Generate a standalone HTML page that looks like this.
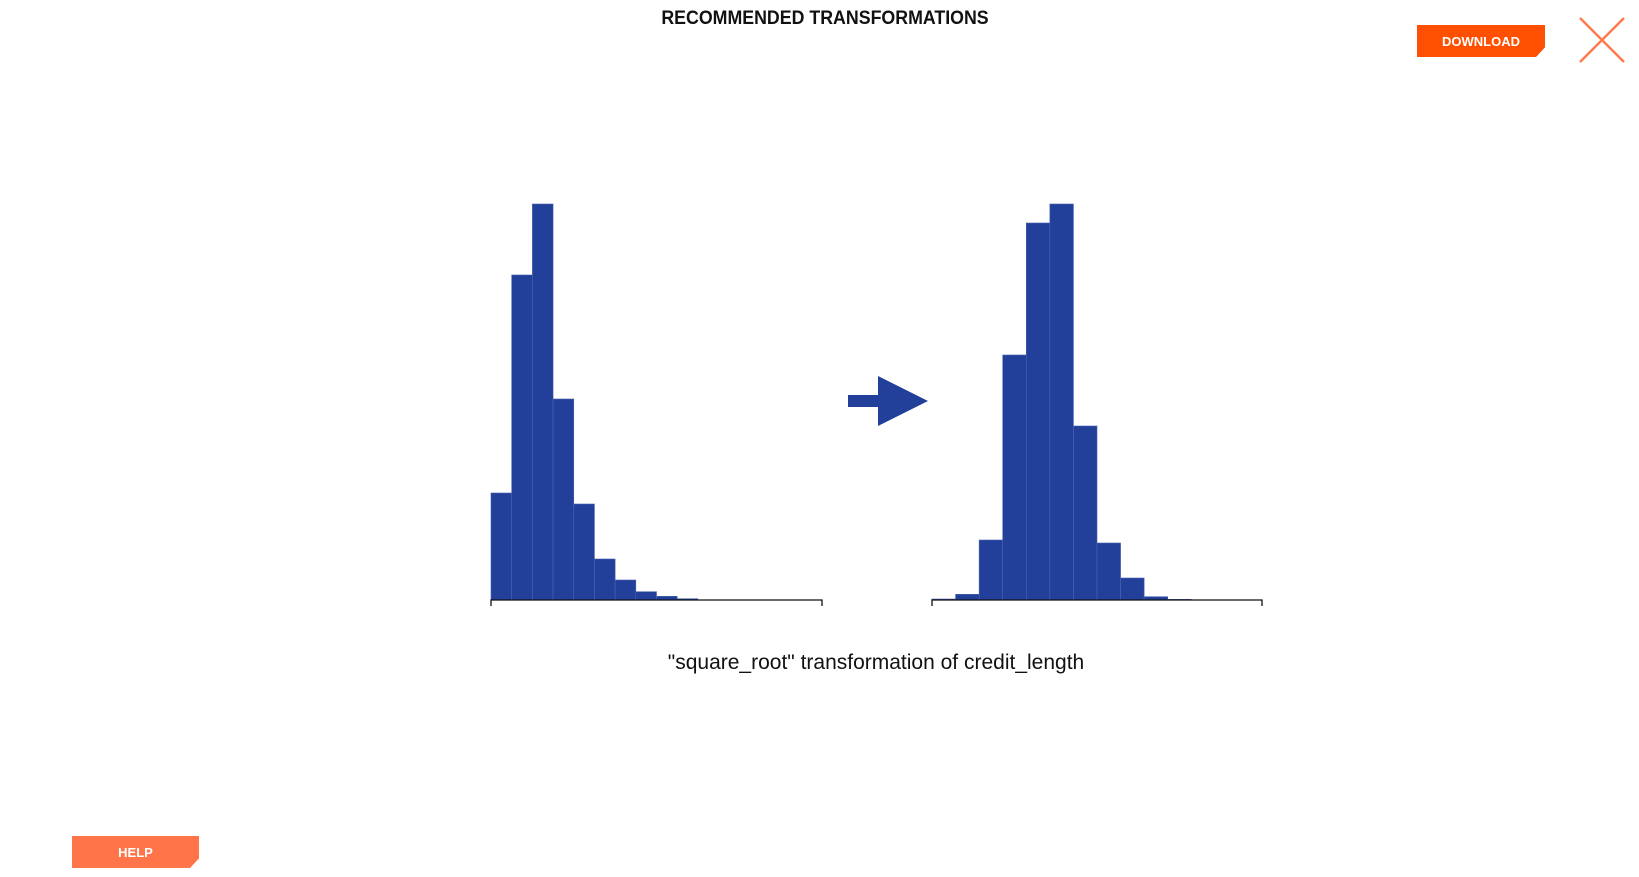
<!DOCTYPE html>
<html><head><meta charset="utf-8"><style>
body{margin:0;width:1639px;height:877px;background:#fff;overflow:hidden;position:relative;font-family:"Liberation Sans",sans-serif}
.title{position:absolute;left:0;width:1650px;top:8px;text-align:center;font-weight:bold;font-size:19px;color:#111;transform:scaleX(0.935);transform-origin:825px 0}
.btn{position:absolute;color:#fff;font-weight:bold;font-size:13px;display:flex;align-items:center;justify-content:center;clip-path:polygon(0 0,100% 0,100% 70%,calc(100% - 9px) 100%,0 100%)}
.caption{position:absolute;left:0;width:1752px;top:651px;text-align:center;font-size:21px;color:#111}
</style></head><body>
<div class="title">RECOMMENDED TRANSFORMATIONS</div>
<div class="btn" style="left:1417px;top:25px;width:128px;height:32px;background:#ff4f00">DOWNLOAD</div>
<svg style="position:absolute;left:1578px;top:16px" width="48" height="48"><line x1="2" y1="2" x2="46" y2="46" stroke="#ff7a50" stroke-width="2.5"/><line x1="46" y1="2" x2="2" y2="46" stroke="#ff7a50" stroke-width="2.5"/></svg>
<div class="btn" style="left:72px;top:836px;width:127px;height:32px;background:#ff7448">HELP</div>
<svg id="chart" style="position:absolute;left:0;top:0" width="1639" height="877"></svg>
<div class="caption">"square_root" transformation of credit_length</div>
<script>
const beforeCounts=[107,325,396,201,96,41,20,8.3,3.7,1.3,0,0,0,0,0,0];
const afterCounts=[1,5.7,60,245,377,396,174,57,22,3.3,0.7,0,0,0];
const ns="http://www.w3.org/2000/svg";
const svg=document.getElementById('chart');
const baseY=600, maxH=396;
function mk(t,a){const e=document.createElementNS(ns,t);for(const k in a)e.setAttribute(k,a[k]);svg.appendChild(e);return e;}
function hist(counts,x0,x1,name){
  const mx=Math.max(...counts);
  const y=v=>baseY-v/mx*maxH;
  const bw=(x1-x0)/counts.length;
  counts.forEach((c,i)=>{
    if(c<=0)return;
    const r=mk('rect',{x:x0+i*bw,y:y(c),width:bw,height:baseY-y(c),fill:'#22409a',stroke:'#4a64b0','stroke-width':0.6});
    
    
  });
  const ax=mk('path',{d:`M${x0},${baseY+6}V${baseY}H${x1}V${baseY+6}`,fill:'none',stroke:'#111','stroke-width':1.3});
  
  
}
hist(beforeCounts,491,822,'before');
hist(afterCounts,932,1262,'after');
const ar=mk('polygon',{points:'848,395 878,395 878,376 928,401 878,426 878,407 848,407',fill:'#22409a'});


</script>
</body></html>
